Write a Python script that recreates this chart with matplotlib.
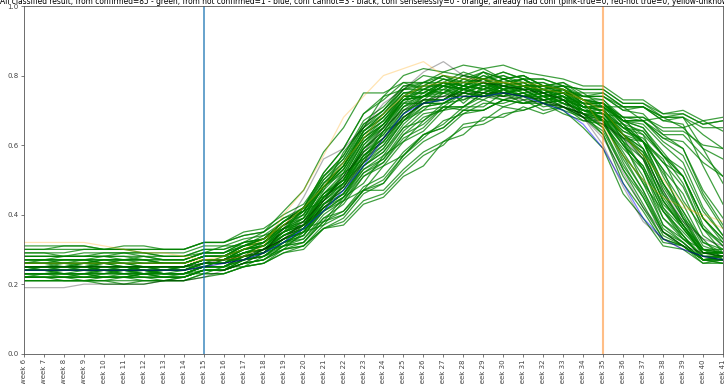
import matplotlib
matplotlib.use('Agg')
import matplotlib.pyplot as plt

# semanas 6..41
weeks = [f"week {w}" for w in range(6, 42)]

title = ("All classified result, from confirmed=85 - green, from not confirmed=1 - blue, "
         "conf cannot=3 - black, conf senselessly=0 - orange, already had conf "
         "(pink-true=0, red-not true=0, yellow-unknown=2)")

# valores en centésimas (x/100)
green_series = [
    [25, 25, 26, 26, 25, 25, 24, 23, 24, 25, 27, 27, 30, 32, 37, 41, 49, 55, 64, 71, 74, 77, 76, 79, 78, 76, 77, 74, 72, 67, 61, 49, 41, 33, 30, 27],
    [23, 23, 23, 22, 22, 22, 23, 23, 23, 24, 24, 26, 29, 31, 34, 41, 45, 54, 59, 67, 72, 73, 76, 75, 77, 76, 76, 73, 69, 65, 54, 46, 35, 31, 27, 26],
    [27, 27, 28, 28, 28, 27, 27, 26, 26, 28, 28, 31, 32, 36, 39, 48, 54, 64, 69, 76, 77, 80, 77, 81, 79, 80, 77, 77, 73, 72, 67, 65, 57, 49, 36, 32],
    [22, 22, 21, 21, 22, 22, 23, 23, 23, 23, 25, 25, 28, 30, 35, 37, 44, 47, 54, 57, 62, 67, 69, 72, 72, 74, 73, 73, 72, 67, 66, 61, 56, 44, 36, 29],
    [26, 26, 26, 25, 25, 25, 24, 24, 25, 26, 28, 28, 32, 35, 42, 47, 58, 65, 74, 76, 80, 79, 78, 81, 77, 79, 75, 76, 71, 67, 55, 45, 34, 31, 27, 28],
    [24, 25, 25, 25, 24, 24, 24, 23, 23, 25, 25, 28, 29, 33, 36, 44, 49, 59, 65, 73, 77, 77, 80, 79, 81, 79, 79, 77, 76, 76, 72, 72, 68, 68, 59, 49],
    [28, 28, 28, 29, 29, 29, 28, 28, 28, 29, 31, 31, 34, 36, 41, 44, 52, 56, 64, 67, 73, 73, 77, 76, 79, 77, 78, 75, 75, 71, 71, 67, 68, 65, 67, 64],
    [21, 21, 21, 21, 20, 20, 21, 21, 21, 22, 23, 25, 26, 29, 31, 37, 40, 47, 50, 57, 63, 66, 71, 71, 75, 74, 76, 73, 71, 70, 65, 61, 49, 39, 29, 28],
    [25, 25, 24, 24, 25, 25, 25, 24, 24, 26, 26, 29, 30, 35, 38, 47, 53, 63, 68, 75, 76, 79, 77, 79, 76, 77, 74, 74, 69, 65, 53, 43, 33, 31, 27, 26],
    [24, 24, 24, 25, 25, 25, 24, 24, 25, 25, 27, 27, 30, 31, 36, 38, 45, 49, 57, 61, 67, 72, 73, 76, 75, 77, 74, 75, 73, 69, 68, 61, 53, 39, 33, 27],
    [26, 26, 27, 27, 26, 26, 26, 26, 26, 28, 28, 30, 31, 35, 37, 45, 50, 60, 65, 73, 74, 77, 72, 77, 75, 76, 73, 74, 70, 69, 62, 53, 39, 33, 28, 28],
    [23, 23, 22, 22, 23, 23, 23, 22, 22, 24, 24, 27, 28, 32, 35, 43, 48, 57, 62, 69, 73, 73, 76, 74, 76, 73, 74, 71, 68, 63, 51, 42, 33, 31, 27, 28],
    [29, 29, 29, 30, 30, 30, 29, 29, 29, 31, 31, 33, 34, 38, 41, 49, 54, 63, 67, 74, 75, 78, 77, 79, 77, 78, 75, 75, 71, 71, 67, 67, 63, 63, 57, 51],
    [22, 23, 23, 23, 22, 22, 22, 21, 22, 24, 24, 26, 27, 31, 32, 38, 40, 47, 49, 56, 61, 64, 69, 70, 73, 72, 74, 71, 69, 68, 61, 56, 44, 37, 29, 29],
    [25, 25, 25, 26, 26, 25, 25, 25, 25, 27, 27, 30, 32, 37, 41, 51, 57, 67, 71, 77, 77, 80, 79, 81, 79, 80, 77, 78, 75, 75, 71, 71, 67, 66, 54, 43],
    [24, 24, 23, 23, 23, 24, 24, 23, 23, 25, 25, 27, 28, 32, 34, 42, 46, 55, 60, 68, 72, 72, 75, 74, 76, 74, 75, 72, 70, 70, 65, 63, 57, 51, 39, 33],
    [27, 27, 27, 27, 28, 28, 27, 26, 26, 28, 28, 30, 31, 34, 36, 42, 45, 52, 55, 62, 65, 71, 71, 75, 74, 77, 75, 76, 72, 71, 65, 61, 47, 37, 29, 29],
    [23, 23, 24, 24, 24, 23, 23, 22, 23, 25, 25, 28, 29, 33, 36, 45, 51, 61, 66, 73, 76, 75, 77, 74, 75, 72, 73, 70, 65, 59, 46, 39, 31, 30, 26, 27],
    [26, 26, 25, 25, 26, 26, 26, 26, 26, 28, 28, 31, 33, 38, 42, 52, 59, 69, 73, 78, 78, 80, 78, 79, 76, 78, 75, 76, 72, 71, 66, 64, 57, 53, 41, 34],
    [25, 25, 25, 25, 26, 26, 25, 25, 25, 27, 27, 29, 30, 34, 37, 45, 49, 57, 61, 68, 72, 73, 77, 76, 79, 77, 77, 75, 74, 74, 70, 71, 67, 68, 65, 65],
    [30, 30, 31, 31, 30, 30, 30, 30, 30, 32, 32, 34, 35, 39, 41, 48, 52, 61, 65, 72, 74, 78, 77, 80, 78, 79, 76, 77, 73, 72, 66, 59, 45, 37, 30, 30],
    [22, 22, 22, 21, 21, 22, 22, 22, 22, 24, 24, 27, 28, 32, 34, 41, 45, 53, 57, 65, 70, 71, 75, 74, 77, 75, 75, 73, 71, 70, 63, 56, 42, 34, 27, 27],
    [24, 24, 24, 24, 23, 23, 24, 24, 24, 26, 26, 29, 31, 36, 39, 48, 54, 64, 69, 75, 75, 78, 76, 78, 75, 76, 73, 74, 70, 68, 60, 54, 43, 37, 30, 29],
    [26, 27, 27, 27, 26, 26, 26, 26, 26, 28, 28, 30, 31, 35, 37, 44, 48, 56, 60, 67, 71, 72, 76, 75, 78, 77, 77, 76, 74, 75, 71, 71, 68, 69, 66, 67],
    [21, 21, 21, 21, 21, 20, 20, 21, 21, 23, 23, 25, 26, 30, 32, 39, 43, 51, 55, 63, 66, 71, 71, 74, 73, 75, 72, 73, 69, 67, 57, 47, 35, 31, 26, 26],
    [25, 25, 25, 25, 24, 24, 25, 25, 25, 27, 27, 30, 31, 35, 37, 45, 49, 58, 63, 71, 75, 75, 78, 77, 79, 77, 77, 75, 73, 73, 68, 67, 61, 57, 45, 36],
    [28, 28, 28, 28, 28, 28, 28, 27, 27, 29, 29, 32, 33, 37, 40, 48, 53, 62, 66, 73, 74, 78, 76, 78, 76, 77, 74, 75, 71, 70, 63, 57, 44, 36, 29, 29],
    [23, 23, 23, 24, 24, 24, 23, 23, 23, 25, 25, 27, 28, 31, 32, 38, 41, 48, 51, 58, 63, 65, 70, 70, 73, 72, 72, 70, 68, 67, 60, 51, 37, 32, 27, 27],
    [24, 24, 24, 24, 24, 25, 25, 24, 24, 26, 26, 29, 31, 36, 40, 49, 55, 65, 70, 77, 78, 81, 80, 82, 79, 80, 77, 78, 74, 73, 67, 63, 51, 41, 31, 29],
    [27, 27, 26, 26, 27, 27, 27, 27, 27, 29, 29, 31, 32, 36, 38, 46, 50, 59, 63, 70, 74, 74, 77, 76, 78, 76, 76, 74, 72, 72, 68, 68, 65, 65, 59, 56],
    [22, 22, 22, 22, 22, 23, 23, 22, 22, 24, 24, 27, 28, 32, 35, 43, 48, 57, 62, 70, 72, 76, 75, 77, 74, 75, 72, 73, 68, 64, 53, 45, 35, 32, 27, 27],
    [26, 26, 26, 26, 26, 26, 25, 25, 25, 27, 27, 30, 32, 37, 41, 50, 56, 66, 70, 76, 78, 77, 78, 76, 77, 74, 74, 72, 70, 69, 64, 62, 55, 48, 36, 31],
    [25, 24, 24, 24, 25, 25, 25, 25, 25, 27, 27, 29, 30, 33, 35, 41, 44, 51, 54, 61, 64, 70, 71, 75, 74, 77, 75, 76, 72, 72, 67, 65, 58, 51, 37, 31],
    [24, 24, 25, 25, 25, 24, 24, 24, 24, 26, 26, 28, 29, 33, 36, 44, 49, 59, 64, 72, 76, 76, 79, 77, 78, 76, 76, 74, 71, 70, 64, 61, 52, 43, 32, 29],
    [23, 23, 23, 23, 24, 24, 23, 23, 23, 25, 25, 28, 30, 35, 39, 48, 54, 64, 68, 74, 74, 76, 74, 76, 74, 75, 72, 73, 69, 67, 58, 49, 37, 33, 28, 28],
    [29, 29, 28, 28, 29, 29, 29, 28, 28, 30, 30, 32, 33, 37, 39, 46, 50, 58, 62, 69, 73, 73, 76, 75, 77, 75, 76, 73, 71, 71, 67, 67, 62, 59, 47, 39],
    [25, 25, 25, 26, 26, 25, 25, 25, 25, 27, 27, 29, 30, 34, 36, 43, 47, 55, 59, 67, 70, 75, 75, 78, 77, 79, 76, 77, 73, 72, 66, 61, 49, 40, 30, 28],
    [22, 22, 22, 22, 22, 22, 21, 21, 22, 24, 24, 26, 27, 30, 31, 36, 38, 44, 46, 52, 57, 60, 66, 67, 71, 70, 72, 69, 67, 66, 59, 53, 41, 34, 27, 27],
    [26, 26, 26, 26, 26, 27, 27, 26, 26, 28, 28, 31, 33, 38, 42, 51, 57, 66, 70, 76, 76, 79, 77, 79, 77, 78, 75, 76, 72, 72, 67, 67, 62, 61, 55, 51],
    [24, 24, 23, 23, 24, 24, 24, 24, 24, 26, 26, 28, 29, 33, 35, 42, 46, 54, 58, 66, 71, 72, 75, 74, 76, 74, 75, 72, 70, 69, 63, 59, 48, 39, 30, 29],
    [31, 31, 31, 31, 30, 30, 30, 30, 30, 32, 32, 34, 35, 39, 42, 50, 55, 64, 68, 74, 74, 77, 76, 78, 76, 77, 74, 75, 71, 70, 63, 57, 44, 36, 29, 29],
    [23, 23, 23, 23, 23, 24, 24, 23, 23, 25, 25, 27, 29, 34, 37, 46, 52, 62, 67, 74, 77, 77, 80, 79, 81, 79, 79, 77, 76, 76, 72, 72, 69, 70, 67, 68],
    [25, 25, 25, 24, 24, 24, 25, 25, 25, 27, 27, 30, 32, 37, 40, 48, 53, 62, 66, 72, 72, 75, 73, 75, 73, 74, 71, 72, 68, 66, 57, 50, 39, 34, 28, 28],
    [27, 27, 27, 27, 27, 27, 28, 27, 27, 29, 29, 31, 32, 36, 38, 45, 49, 57, 61, 68, 72, 72, 75, 74, 76, 74, 75, 72, 70, 69, 63, 58, 46, 38, 30, 29],
    [24, 24, 24, 24, 24, 24, 23, 24, 24, 26, 26, 29, 30, 34, 37, 45, 50, 59, 64, 71, 73, 77, 76, 78, 76, 77, 74, 75, 71, 71, 67, 66, 60, 55, 42, 34],
    [22, 22, 22, 23, 23, 23, 22, 22, 22, 24, 24, 26, 27, 31, 33, 40, 44, 52, 56, 64, 69, 70, 74, 73, 76, 74, 74, 72, 70, 68, 60, 54, 42, 36, 29, 28],
    [26, 26, 26, 26, 27, 27, 26, 26, 26, 28, 28, 31, 33, 38, 41, 49, 54, 63, 67, 73, 74, 77, 76, 78, 76, 77, 74, 75, 70, 67, 56, 47, 36, 32, 27, 27],
    [25, 25, 25, 25, 25, 25, 25, 24, 25, 27, 27, 29, 30, 34, 37, 45, 50, 60, 66, 74, 78, 78, 81, 79, 80, 78, 78, 76, 73, 71, 61, 53, 41, 35, 29, 29],
    [23, 23, 23, 23, 22, 22, 23, 23, 23, 25, 25, 28, 29, 33, 35, 42, 46, 54, 58, 65, 67, 71, 70, 73, 71, 73, 70, 71, 67, 67, 62, 61, 55, 51, 39, 33],
    [28, 28, 28, 28, 28, 29, 29, 28, 28, 30, 30, 32, 33, 36, 37, 43, 46, 53, 56, 63, 68, 70, 74, 74, 77, 76, 76, 75, 72, 72, 68, 68, 64, 64, 60, 59],
    [27, 27, 27, 27, 27, 27, 27, 27, 27, 29, 29, 32, 35, 41, 47, 58, 65, 75, 75, 78, 76, 78, 76, 78, 75, 76, 73, 74, 70, 69, 63, 59, 49, 41, 32, 30],
    [24, 24, 24, 24, 24, 23, 23, 24, 24, 26, 26, 28, 29, 32, 33, 39, 41, 47, 47, 53, 58, 61, 65, 66, 69, 70, 72, 71, 69, 69, 65, 64, 57, 51, 39, 32],
    [22, 22, 22, 22, 22, 22, 22, 22, 22, 24, 24, 26, 27, 30, 31, 36, 37, 43, 45, 51, 54, 61, 63, 68, 68, 71, 69, 71, 68, 68, 63, 61, 53, 46, 34, 30],
    [26, 26, 26, 27, 27, 26, 26, 26, 26, 28, 28, 31, 33, 38, 42, 52, 59, 69, 74, 80, 82, 81, 83, 82, 83, 81, 80, 79, 77, 77, 73, 73, 69, 69, 66, 67],
    [30, 30, 30, 30, 30, 31, 31, 30, 30, 32, 32, 35, 36, 40, 43, 51, 56, 65, 69, 75, 75, 78, 77, 80, 78, 79, 76, 77, 74, 74, 71, 71, 68, 68, 63, 59],
    [21, 21, 21, 21, 21, 21, 21, 21, 21, 23, 23, 25, 26, 29, 30, 36, 39, 46, 49, 57, 63, 65, 70, 70, 73, 72, 73, 71, 69, 68, 62, 58, 46, 37, 28, 27],
    [25, 25, 25, 25, 24, 24, 25, 25, 25, 27, 27, 30, 31, 35, 38, 46, 51, 61, 66, 73, 74, 77, 75, 77, 75, 76, 73, 74, 69, 63, 49, 41, 32, 31, 27, 28],
    [24, 24, 24, 24, 24, 24, 24, 24, 24, 26, 26, 28, 29, 33, 35, 43, 47, 56, 61, 69, 74, 75, 79, 78, 80, 77, 77, 76, 74, 74, 70, 69, 63, 59, 46, 37],
]

blue_series = [
    [24, 24, 24, 24, 24, 24, 24, 24, 24, 25, 26, 27, 29, 32, 36, 41, 47, 54, 62, 69, 72, 73, 74, 74, 75, 74, 72, 70, 66, 59, 49, 39, 33, 30, 28, 27],
]

black_series = [
    [19, 19, 19, 20, 20, 20, 20, 21, 21, 22, 24, 26, 29, 36, 45, 56, 59, 65, 72, 76, 81, 84, 80, 78, 77, 76, 75, 73, 68, 60, 48, 38, 33, 30, 28, 27],
    [25, 25, 25, 25, 25, 25, 25, 25, 25, 26, 27, 28, 30, 33, 37, 42, 48, 55, 62, 68, 72, 74, 75, 75, 75, 74, 73, 71, 68, 62, 52, 42, 35, 31, 29, 28],
    [24, 24, 24, 24, 24, 24, 24, 24, 24, 25, 26, 27, 30, 33, 38, 44, 51, 58, 65, 70, 73, 74, 74, 74, 74, 73, 72, 71, 69, 66, 62, 56, 47, 38, 33, 31],
]

yellow_series = [
    [32, 32, 32, 32, 31, 30, 29, 29, 28, 27, 27, 28, 31, 40, 47, 57, 68, 74, 80, 82, 84, 80, 79, 79, 78, 78, 77, 76, 73, 65, 57, 50, 45, 42, 40, 38],
    [26, 26, 26, 26, 26, 26, 26, 26, 26, 27, 28, 30, 33, 37, 42, 48, 55, 62, 69, 74, 77, 78, 78, 78, 78, 77, 76, 75, 73, 70, 63, 57, 50, 43, 39, 36],
]

start_week = "week 15"
end_week = "week 35"


def main():
    fig = plt.figure(figsize=(7.24, 3.84), dpi=100)
    ax = fig.add_axes([24 / 724, 30.3 / 384, 699 / 724, 347.7 / 384])
    x = list(range(len(weeks)))

    for s in green_series:
        ax.plot(x, [v / 100 for v in s], color='green', alpha=0.75, lw=0.9)
    for s in blue_series:
        ax.plot(x, [v / 100 for v in s], color='blue', alpha=0.5, lw=0.9)
    for s in black_series:
        ax.plot(x, [v / 100 for v in s], color='black', alpha=0.3, lw=0.9)
    for s in yellow_series:
        ax.plot(x, [v / 100 for v in s], color='orange', alpha=0.3, lw=0.9)

    ax.axvline(weeks.index(start_week), color='tab:blue', alpha=0.8, lw=1.2)
    ax.axvline(weeks.index(end_week), color='tab:orange', alpha=0.5, lw=1.5)

    ax.set_xlim(0, len(weeks) - 1)
    ax.set_ylim(0, 1)
    ax.set_xticks(x)
    ax.set_xticklabels(weeks, rotation=90, fontsize=5)
    ax.tick_params(axis='y', labelsize=5)
    ax.tick_params(length=2.5, width=0.5, pad=1.5, colors='#444444')
    for sp in ax.spines.values():
        sp.set_linewidth(0.6)
        sp.set_color('#555555')
    ax.set_title(title, fontsize=5.45, pad=1.2)

    fig.savefig('out.png', dpi=100)
    plt.close(fig)


if __name__ == '__main__':
    main()
